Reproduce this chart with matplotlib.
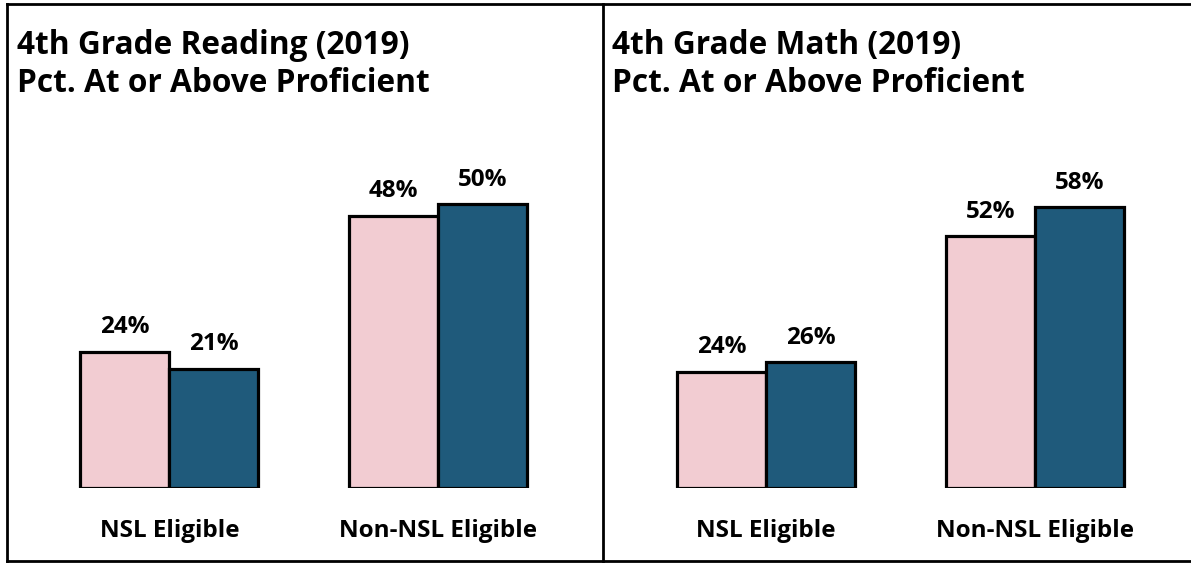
import matplotlib
matplotlib.use("Agg")
import matplotlib.pyplot as plt
from matplotlib.lines import Line2D

plt.rcParams["font.family"] = ["Open Sans", "DejaVu Sans"]
plt.rcParams["font.weight"] = "bold"

# data
groups = ["NSL Eligible", "Non-NSL Eligible"]
titles = ["4th Grade Reading (2019)\nPct. At or Above Proficient",
          "4th Grade Math (2019)\nPct. At or Above Proficient"]
reading_a = [24, 48]   # pink series
reading_b = [21, 50]   # blue series
math_a = [24, 52]
math_b = [26, 58]

PINK = "#F2CCD2"
BLUE = "#1F5A7B"

W, H = 1191, 563
fig = plt.figure(figsize=(W / 100, H / 100), dpi=100)


def px_axes(x0, x1, y_bottom, y_top):
    return fig.add_axes([x0 / W, 1 - y_bottom / H, (x1 - x0) / W, (y_bottom - y_top) / H])


panels = [
    (titles[0], reading_a, reading_b, 35, 572, 52.9, 17),
    (titles[1], math_a, math_b, 632, 1169, 62.0, 612),
]

for title, a, b, x0, x1, ytop, tx in panels:
    ax = px_axes(x0, x1, 488, 188)
    w = 0.332
    xs = range(len(groups))
    bars_a = ax.bar([x - w / 2 for x in xs], a, width=w, color=PINK,
                    edgecolor="black", linewidth=2.3, zorder=2)
    bars_b = ax.bar([x + w / 2 for x in xs], b, width=w, color=BLUE,
                    edgecolor="black", linewidth=2.3, zorder=3)
    for bar in list(bars_a) + list(bars_b):
        ax.annotate(f"{bar.get_height():.0f}%",
                    (bar.get_x() + bar.get_width() / 2, bar.get_height()),
                    xytext=(0, 9), textcoords="offset points",
                    ha="center", va="bottom", fontsize=17.5, fontweight="bold")
    ax.set_xlim(-0.5, 1.5)
    ax.set_ylim(0, ytop)
    ax.set_xticks(list(xs))
    ax.set_xticklabels(groups, fontsize=17.5, fontweight="bold")
    ax.tick_params(axis="x", length=0, pad=22)
    ax.set_yticks([])
    for s in ax.spines.values():
        s.set_visible(False)
    ax.patch.set_alpha(0)
    fig.text(tx / W, 1 - 29 / H, title, ha="left", va="top",
             fontsize=22.8, fontweight="bold", linespacing=1.18)

# frame and divider
lw = 2.0
fig.add_artist(Line2D([7 / W, 1], [1 - 4 / H, 1 - 4 / H], color="black", lw=lw))
fig.add_artist(Line2D([7 / W, 1], [1 - 561 / H, 1 - 561 / H], color="black", lw=lw))
fig.add_artist(Line2D([7 / W, 7 / W], [1 - 4 / H, 1 - 561 / H], color="black", lw=lw))
fig.add_artist(Line2D([603 / W, 603 / W], [1 - 4 / H, 1 - 561 / H], color="black", lw=lw))

fig.savefig("out.png", dpi=100)
